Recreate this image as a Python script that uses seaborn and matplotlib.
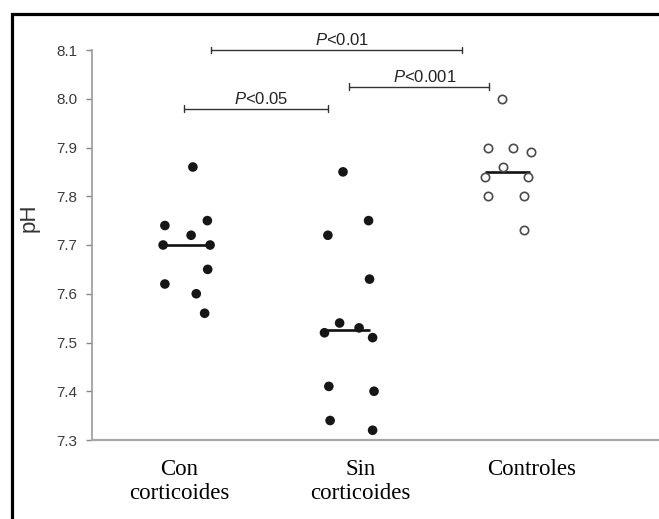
import numpy as np
import pandas as pd
import matplotlib
matplotlib.use("Agg")
import matplotlib.pyplot as plt
import seaborn as sns
from matplotlib.patches import Rectangle

# ---------------- data ----------------
groups = ["Con\ncorticoides", "Sin\ncorticoides", "Controles"]
ph_con = [7.86, 7.74, 7.75, 7.72, 7.70, 7.70, 7.65, 7.62, 7.60, 7.56]
jit_con = [0.042, -0.132, 0.132, 0.031, -0.143, 0.149, 0.134, -0.132, 0.063, 0.115]
ph_sin = [7.85, 7.75, 7.72, 7.63, 7.54, 7.53, 7.52, 7.51, 7.41, 7.40, 7.34, 7.32]
jit_sin = [-0.025, 0.134, -0.119, 0.140, -0.046, 0.075, -0.140, 0.159, -0.113, 0.168, -0.105, 0.159]
ph_ctrl = [8.00, 7.90, 7.90, 7.89, 7.86, 7.84, 7.84, 7.80, 7.80, 7.73]
jit_ctrl = [-0.036, -0.124, 0.030, 0.145, -0.030, -0.140, 0.124, -0.124, 0.101, 0.101]
y_ticks = [7.3, 7.4, 7.5, 7.6, 7.7, 7.8, 7.9, 8.0, 8.1]
p_labels = ["<0.05", "<0.001", "<0.01"]
bracket_x = [(-0.014, 0.881), (1.011, 1.881), (0.157, 1.715)]
bracket_y = [7.98, 8.025, 8.10]

# ---------------- table ----------------
rows = []
for gi, (vals, jit) in enumerate([(ph_con, jit_con), (ph_sin, jit_sin), (ph_ctrl, jit_ctrl)]):
    for v, j in zip(vals, jit):
        rows.append({"group": groups[gi], "gidx": gi, "pH": v, "xpos": gi + j})
df = pd.DataFrame(rows)

sns.set_style("white")
plt.rcParams["font.family"] = ["Liberation Sans", "DejaVu Sans"]
plt.rcParams["mathtext.fontset"] = "custom"
plt.rcParams["mathtext.it"] = "Liberation Sans:italic"
plt.rcParams["mathtext.rm"] = "Liberation Sans"

W, H = 659, 519
fig = plt.figure(figsize=(W / 100, H / 100), dpi=100)
fig.patch.set_facecolor("white")
ax = fig.add_axes([92 / W, (H - 440) / H, (W - 92) / W + 0.01, 390 / H])

filled = df[df.gidx < 2]
opened = df[df.gidx == 2]
sns.scatterplot(data=filled, x="xpos", y="pH", color="#161616", s=48,
                edgecolor="none", legend=False, ax=ax, zorder=3)
sns.scatterplot(data=opened, x="xpos", y="pH", color="white", edgecolor="#4a4a4a",
                linewidth=1.2, s=36, legend=False, ax=ax, zorder=3)

# median lines
med = df.groupby("gidx")["pH"].median()
for gi, m in med.items():
    ax.hlines(m, gi - 0.14, gi + 0.14, color="#111111", lw=1.9, zorder=2)

ax.set_xlim(-0.585, 2.98)
ax.set_ylim(7.3, 8.1)
ax.set_yticks(y_ticks)
ax.set_yticklabels([f"{t:.1f}" for t in y_ticks])

label_pos = [-0.044, 1.082, 2.145]
ax.set_xticks(label_pos)
ax.set_xticklabels(groups, family=["Liberation Serif", "DejaVu Serif"], fontsize=16.5,
                   color="black", linespacing=1.15)
ax.tick_params(axis="x", length=0, pad=14)
ax.tick_params(axis="y", length=4.5, width=1, color="#888888", labelsize=11,
               labelcolor="#3a3a3a", pad=6, direction="out", left=True)
ax.set_xlabel("")
ax.set_ylabel("pH", fontsize=16, color="#333333")
ax.yaxis.set_label_coords(-0.11, 0.569)
ax.yaxis.label.set_va("center")

for s in ["top", "right"]:
    ax.spines[s].set_visible(False)
ax.spines["left"].set_color("#9a9a9a")
ax.spines["left"].set_linewidth(1.2)
ax.spines["bottom"].set_color("#a8a8a8")
ax.spines["bottom"].set_linewidth(1.6)

# significance brackets
for (x1, x2), yb, lab in zip(bracket_x, bracket_y, p_labels):
    ax.plot([x1, x2], [yb, yb], color="#333333", lw=1.0, clip_on=False)
    for xe in (x1, x2):
        ax.plot([xe, xe], [yb - 0.007, yb + 0.007], color="#333333", lw=1.0, clip_on=False)
    ax.annotate("$P$" + lab, xy=((x1 + x2) / 2, yb), xycoords="data",
                xytext=(4, 3.5), textcoords="offset points", ha="center", va="baseline",
                fontsize=12, color="#222222", annotation_clip=False)

# outer frame
fig.add_artist(Rectangle((11.5 / W, -0.1), 1.2, (H - 13.5) / H + 0.1,
                         transform=fig.transFigure, fill=False, lw=2.3,
                         edgecolor="black", clip_on=False))

fig.savefig("out.png", dpi=100)
